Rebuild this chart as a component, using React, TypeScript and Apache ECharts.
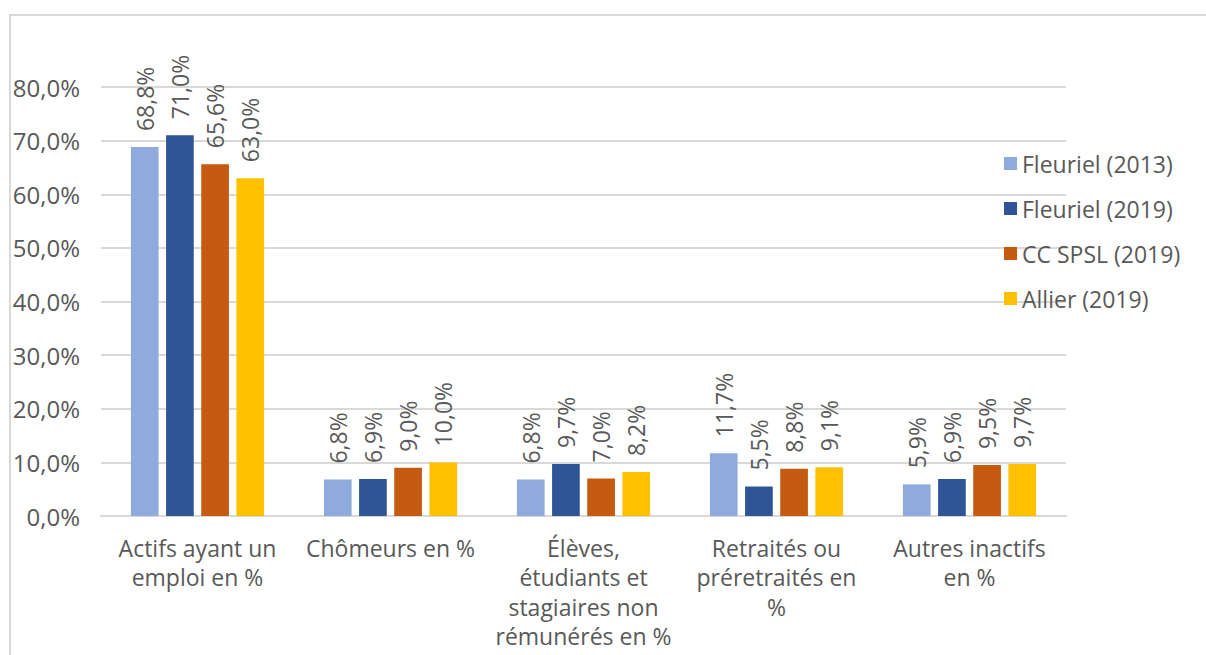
import React, { useEffect, useRef } from "react";
import * as echarts from "echarts";

// Categories (line breaks as laid out under the axis)
const categories = [
  "Actifs ayant un\nemploi en %",
  "Chômeurs en %",
  "Élèves,\nétudiants et\nstagiaires non\nrémunérés en %",
  "Retraités ou\npréretraités en\n%",
  "Autres inactifs\nen %",
];

const seriesNames = ["Fleuriel (2013)", "Fleuriel (2019)", "CC SPSL (2019)", "Allier (2019)"];

const fleuriel2013 = [68.8, 6.8, 6.8, 11.7, 5.9];
const fleuriel2019 = [71.0, 6.9, 9.7, 5.5, 6.9];
const ccSpsl2019 = [65.6, 9.0, 7.0, 8.8, 9.5];
const allier2019 = [63.0, 10.0, 8.2, 9.1, 9.7];

const colors = ["#8FAADC", "#2F5597", "#C55A11", "#FFC000"];

const yMin = 0;
const yMax = 80;
const yStep = 10;

const FONT = "'Open Sans', 'DejaVu Sans', sans-serif";
const TEXT_COLOR = "#595959";
const LINE_COLOR = "#d9d9d9";

const pct = (v: number) => v.toFixed(1).replace(".", ",") + "%";

export default function App() {
  const ref = useRef<HTMLDivElement>(null);

  useEffect(() => {
    if (!ref.current) return;
    const chart = echarts.init(ref.current, null, { renderer: "svg" });
    const allData = [fleuriel2013, fleuriel2019, ccSpsl2019, allier2019];

    chart.setOption({
      animation: false,
      backgroundColor: "#ffffff",
      textStyle: { fontFamily: FONT },
      graphic: [
        {
          type: "rect",
          shape: { x: 10, y: 15, width: 1210, height: 700 },
          style: { fill: "none", stroke: LINE_COLOR, lineWidth: 2 },
          silent: true,
        },
      ],
      grid: { left: 101, right: 140, top: 87, bottom: 139 },
      legend: {
        orient: "vertical",
        left: 1004,
        top: 151,
        padding: 0,
        icon: "rect",
        itemWidth: 13,
        itemHeight: 13,
        itemGap: 20,
        textStyle: { color: TEXT_COLOR, fontSize: 23, fontFamily: FONT, lineHeight: 25 },
        data: seriesNames,
      },
      xAxis: {
        type: "category",
        data: categories,
        axisTick: { show: false },
        axisLine: { lineStyle: { color: LINE_COLOR, width: 2 } },
        axisLabel: {
          interval: 0,
          margin: 17,
          color: TEXT_COLOR,
          fontSize: 23,
          lineHeight: 29.5,
          fontFamily: FONT,
          align: "center",
        },
      },
      yAxis: {
        type: "value",
        min: yMin,
        max: yMax,
        interval: yStep,
        axisLine: { show: false },
        axisTick: { show: false },
        splitLine: { lineStyle: { color: LINE_COLOR, width: 2 } },
        axisLabel: {
          margin: 21,
          color: TEXT_COLOR,
          fontSize: 24,
          fontFamily: FONT,
          formatter: (v: number) => pct(v),
        },
      },
      series: seriesNames.map((name, i) => ({
        name,
        type: "bar",
        data: allData[i],
        barGap: "27%",
        barCategoryGap: "31%",
        itemStyle: { color: colors[i] },
        label: {
          show: true,
          position: "top",
          rotate: 90,
          align: "left",
          verticalAlign: "middle",
          distance: 16,
          color: TEXT_COLOR,
          fontSize: 23,
          fontFamily: FONT,
          formatter: (p: any) => pct(p.value),
        },
      })),
    });

    return () => chart.dispose();
  }, []);

  return (
    <div
      ref={ref}
      style={{ position: "absolute", left: 0, top: 0, width: 1206, height: 655 }}
    />
  );
}
